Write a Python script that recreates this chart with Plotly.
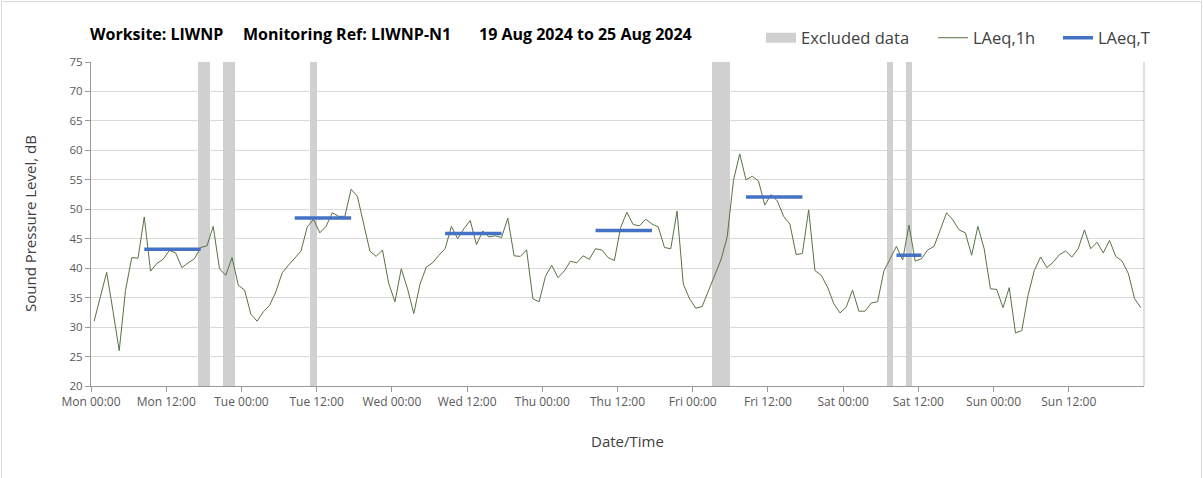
import pandas as pd
import plotly.graph_objects as go

# ---------------- data ----------------
week_start = "2024-08-19 00:00"

# hourly LAeq,1h values (Mon 00:00 .. Sun 23:00), dB
laeq_1h = [
    31.0, 35.1, 39.3, 32.8, 26.0, 36.2, 41.8, 41.7, 48.7, 39.5,
    40.8, 41.5, 43.0, 42.6, 40.1, 40.9, 41.6, 43.5, 43.8, 47.1,
    39.9, 38.8, 41.8, 37.1, 36.3, 32.2, 31.0, 32.6, 33.7, 36.0,
    39.2, 40.5, 41.7, 42.9, 47.0, 48.3, 46.0, 47.1, 49.4, 48.8,
    48.8, 53.4, 52.2, 47.5, 42.9, 42.0, 43.1, 37.4, 34.3, 39.9,
    36.5, 32.3, 37.3, 40.2, 40.9, 42.2, 43.3, 47.1, 45.0, 46.7,
    48.1, 44.0, 46.3, 45.3, 45.5, 45.2, 48.5, 42.1, 42.0, 43.1,
    34.8, 34.3, 38.6, 40.5, 38.4, 39.5, 41.2, 40.9, 42.1, 41.5,
    43.3, 43.1, 41.8, 41.3, 46.9, 49.5, 47.4, 47.2, 48.3, 47.5,
    47.0, 43.5, 43.3, 49.7, 37.3, 34.8, 33.2, 33.5, 36.2, 38.9,
    41.4, 45.3, 54.9, 59.4, 55.0, 55.6, 54.8, 50.7, 52.5, 51.4,
    48.8, 47.5, 42.3, 42.5, 49.9, 39.6, 38.8, 36.8, 34.0, 32.4,
    33.4, 36.3, 32.7, 32.7, 34.1, 34.3, 39.5, 41.6, 43.7, 41.4,
    47.3, 41.2, 41.6, 43.1, 43.7, 46.5, 49.4, 48.2, 46.5, 46.0,
    42.2, 47.1, 43.3, 36.5, 36.4, 33.3, 36.7, 29.0, 29.4, 35.4,
    39.6, 41.9, 40.1, 41.0, 42.3, 42.9, 41.9, 43.3, 46.5, 43.3,
    44.4, 42.6, 44.7, 42.0, 41.2, 39.1, 34.8, 33.3,
]

# LAeq,T periods (day offset from Monday, first hour, last hour, value)
lt_day = [0, 1, 2, 3, 4, 5]
lt_first_hour = [8, 8, 8, 8, 8, 8]
lt_last_hour = [17, 17, 17, 17, 17, 12]
lt_value = [43.2, 48.5, 45.9, 46.4, 52.1, 42.2]

# excluded data periods
excl_start = ["2024-08-19 17:00", "2024-08-19 21:00", "2024-08-20 11:00",
              "2024-08-23 03:00", "2024-08-24 07:00", "2024-08-24 10:00"]
excl_end = ["2024-08-19 19:00", "2024-08-19 23:00", "2024-08-20 12:00",
            "2024-08-23 06:00", "2024-08-24 08:00", "2024-08-24 11:00"]

y_min, y_max = 20, 75
x_tick_format = "%a %H:%M"
x_tick_count = 14          # Mon 00:00 ... Sun 12:00, every 12 h

# ---------------- derived ----------------
t0 = pd.Timestamp(week_start)
half = pd.Timedelta(minutes=30)
hour_times = [t0 + pd.Timedelta(hours=i) + half for i in range(len(laeq_1h))]
x_ticks = list(pd.date_range(t0, periods=x_tick_count, freq="12h"))

lt_x, lt_y = [], []
for d, h1, h2, v in zip(lt_day, lt_first_hour, lt_last_hour, lt_value):
    lt_x += [t0 + pd.Timedelta(days=d, hours=h1) + half,
             t0 + pd.Timedelta(days=d, hours=h2) + half, None]
    lt_y += [v, v, None]

ex_s = pd.to_datetime(excl_start)
ex_e = pd.to_datetime(excl_end)
ex_mid = [s + (e - s) / 2 for s, e in zip(ex_s, ex_e)]
ex_w = [(e - s).total_seconds() * 1000 for s, e in zip(ex_s, ex_e)]

x_range = [t0, t0 + pd.Timedelta(days=7)]

# ---------------- figure ----------------
W, H = 1203, 478
L, R, T, B = 91, 59, 62, 92
pw, ph = W - L - R, H - T - B


def px(x):
    return (x - L) / pw


def py(y):
    return (H - B - y) / ph


FONT = "Open Sans"
GREY_TXT = "#404040"

fig = go.Figure()

fig.add_trace(go.Bar(
    x=ex_mid, y=[y_max - y_min] * len(ex_mid), base=y_min, width=ex_w,
    marker=dict(color="#d0d0d0", line=dict(width=0)),
    showlegend=False, hoverinfo="skip", name="Excluded data",
))
fig.add_trace(go.Scatter(
    x=[None], y=[None], mode="lines", name="Excluded data",
    line=dict(color="#d0d0d0", width=12), legend="legend",
))
fig.add_trace(go.Scatter(
    x=hour_times, y=laeq_1h, mode="lines", name="LAeq,1h",
    line=dict(color="#587245", width=1), legend="legend2",
))
fig.add_trace(go.Scatter(
    x=lt_x, y=lt_y, mode="lines", name="LAeq,T",
    line=dict(color="#4472C4", width=3.5), legend="legend3",
))

legend_common = dict(orientation="h", yanchor="middle", y=py(38),
                     xanchor="left", bgcolor="rgba(0,0,0,0)",
                     font=dict(family=FONT, size=16.5, color=GREY_TXT))

title_font = dict(family=FONT, size=16, color="#000000")

fig.update_layout(
    width=W, height=H,
    margin=dict(l=L, r=R, t=T, b=B),
    paper_bgcolor="white", plot_bgcolor="white",
    bargap=0,
    showlegend=True,
    legend=dict(x=px(761), **legend_common),
    legend2=dict(x=px(933), **legend_common),
    legend3=dict(x=px(1058), **legend_common),
    xaxis=dict(
        type="date", range=x_range, tickmode="array", tickvals=x_ticks,
        tickformat=x_tick_format, ticks="outside", ticklen=5,
        tickcolor="#999999", showgrid=False, showline=True,
        linecolor="#999999", linewidth=1, zeroline=False,
        tickfont=dict(family=FONT, size=12, color="#595959"),
    ),
    xaxis2=dict(
        type="date", range=x_range, overlaying="x", anchor="y",
        dtick=24 * 3600 * 1000, tick0=t0, showticklabels=False,
        ticks="", showgrid=True, gridcolor="#d9d9d9", gridwidth=1,
        showline=False, zeroline=False,
    ),
    yaxis=dict(
        range=[y_min, y_max], dtick=5, ticks="outside", ticklen=5,
        tickcolor="#999999", showgrid=True, gridcolor="#d9d9d9",
        gridwidth=1, showline=True, linecolor="#999999", linewidth=1,
        zeroline=False,
        tickfont=dict(family=FONT, size=11.5, color="#595959"),
    ),
    annotations=[
        dict(text="<b>Worksite: LIWNP</b>", xref="paper", yref="paper",
             x=px(88), y=py(34), xanchor="left", yanchor="middle",
             showarrow=False, font=title_font),
        dict(text="<b>Monitoring Ref: LIWNP-N1</b>", xref="paper", yref="paper",
             x=px(241), y=py(34), xanchor="left", yanchor="middle",
             showarrow=False, font=title_font),
        dict(text="<b>19 Aug 2024 to 25 Aug 2024</b>", xref="paper", yref="paper",
             x=px(477), y=py(34), xanchor="left", yanchor="middle",
             showarrow=False, font=title_font),
        dict(text="Date/Time", xref="paper", yref="paper",
             x=px(627), y=py(441), xanchor="center", yanchor="middle",
             showarrow=False, font=dict(family=FONT, size=15, color=GREY_TXT)),
        dict(text="Sound Pressure Level, dB", xref="paper", yref="paper",
             x=px(30), y=py(224), xanchor="center", yanchor="middle",
             textangle=-90, showarrow=False,
             font=dict(family=FONT, size=15, color=GREY_TXT)),
    ],
    shapes=[
        dict(type="rect", xref="paper", yref="paper",
             x0=px(1.5), x1=px(1201.5), y0=py(490), y1=py(1.5),
             line=dict(color="#d9d9d9", width=1), layer="below"),
        dict(type="line", xref="paper", yref="paper",
             x0=1, x1=1, y0=0, y1=1,
             line=dict(color="#bfbfbf", width=1), layer="above"),
    ],
)

fig.write_html("out.html",
               config={"displayModeBar": False},
               post_script="document.body.style.margin='0';"
                           "document.body.style.overflow='hidden';")
